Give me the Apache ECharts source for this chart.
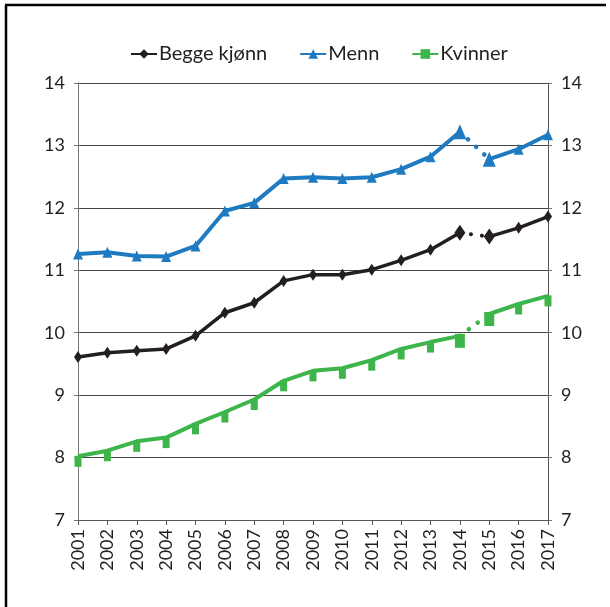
<!DOCTYPE html>
<html><head><meta charset="utf-8">
<script src="https://cdn.jsdelivr.net/npm/echarts@6/dist/echarts.min.js"></script>
<style>html,body{margin:0;padding:0;background:#fff}#c{width:610px;height:607px}</style>
</head><body><div id="c"></div>
<script>
var years = ['2001','2002','2003','2004','2005','2006','2007','2008','2009','2010','2011','2012','2013','2014','2015','2016','2017'];
var begge = [9.61,9.68,9.71,9.74,9.95,10.32,10.48,10.83,10.93,10.93,11.01,11.16,11.33,11.60,11.54,11.68,11.86];
var menn = [11.26,11.29,11.23,11.22,11.39,11.95,12.08,12.47,12.49,12.47,12.49,12.62,12.82,13.22,12.78,12.94,13.17];
var kvinner = [8.02,8.11,8.26,8.32,8.54,8.73,8.93,9.23,9.39,9.43,9.56,9.74,9.85,9.95,10.30,10.46,10.59];
var yTicks = [7,8,9,10,11,12,13,14];
var breakIdx = 13; // break between 2014 and 2015

function part(arr, from, to){ return arr.map(function(v,i){ return (i>=from && i<=to) ? v : null; }); }

var FONT = 'Lato';
var chart = echarts.init(document.getElementById('c'), null, {renderer:'canvas'});

function group(name, data, color, symbol, size, width, offset, bigSize){
  var common = {type:'line', name:name, symbol:symbol, symbolSize:size, symbolOffset:offset,
    itemStyle:{color:color}, connectNulls:false, z:3, animation:false};
  return [
    Object.assign({}, common, {data:part(data,0,breakIdx), lineStyle:{color:color,width:width}}),
    Object.assign({}, common, {data:part(data,breakIdx+1,data.length-1), lineStyle:{color:color,width:width}}),
    Object.assign({}, common, {data:part(data,breakIdx,breakIdx+1), symbolSize:bigSize,
      lineStyle:{color:color,width:width+0.5,type:[0.1,11],cap:'round'}})
  ];
}

var series = [].concat(
  group('Begge kjønn', begge, '#231f20', 'diamond', [8,12], 3.5, [0,0], [11,16]),
  group('Menn', menn, '#1f7bc1', 'triangle', [10,11], 4, [0,0], [13,15]),
  group('Kvinner', kvinner, '#3db54a', 'rect', [7,11], 4, [0,5], [10,14])
);

chart.setOption({
  animation:false,
  textStyle:{fontFamily:FONT},
  legend:{top:39, left:125, itemGap:32, itemWidth:26, itemHeight:12,
    data:['Begge kjønn','Menn','Kvinner'],
    textStyle:{fontFamily:FONT, fontSize:20, color:'#231f20', padding:[0,0,0,-3]}},
  grid:{left:78, right:62, top:83, bottom:87},
  xAxis:{type:'category', data:years, boundaryGap:false,
    axisLine:{lineStyle:{color:'#555', width:1}},
    axisTick:{show:true, length:5, lineStyle:{color:'#555'}},
    axisLabel:{rotate:90, fontSize:18, color:'#231f20', margin:9, fontFamily:FONT}},
  yAxis:[
    {type:'value', min:7, max:14, interval:1, position:'left',
     axisLine:{show:true, lineStyle:{color:'#777'}},
     axisTick:{show:true, length:4, lineStyle:{color:'#777'}},
     splitLine:{lineStyle:{color:'#444', width:1}},
     axisLabel:{fontSize:18, color:'#231f20', margin:13, fontFamily:FONT}},
    {type:'value', min:7, max:14, interval:1, position:'right',
     axisLine:{show:true, lineStyle:{color:'#555'}},
     axisTick:{show:true, length:4, lineStyle:{color:'#777'}},
     splitLine:{show:false},
     axisLabel:{fontSize:18, color:'#231f20', margin:13, fontFamily:FONT}}
  ],
  graphic:[
    {type:'line', shape:{x1:5, y1:5, x2:606, y2:5}, style:{stroke:'#000', lineWidth:2.5}, silent:true},
    {type:'line', shape:{x1:6, y1:5, x2:6, y2:607}, style:{stroke:'#000', lineWidth:2.5}, silent:true}
  ],
  series:series
});
</script></body></html>
